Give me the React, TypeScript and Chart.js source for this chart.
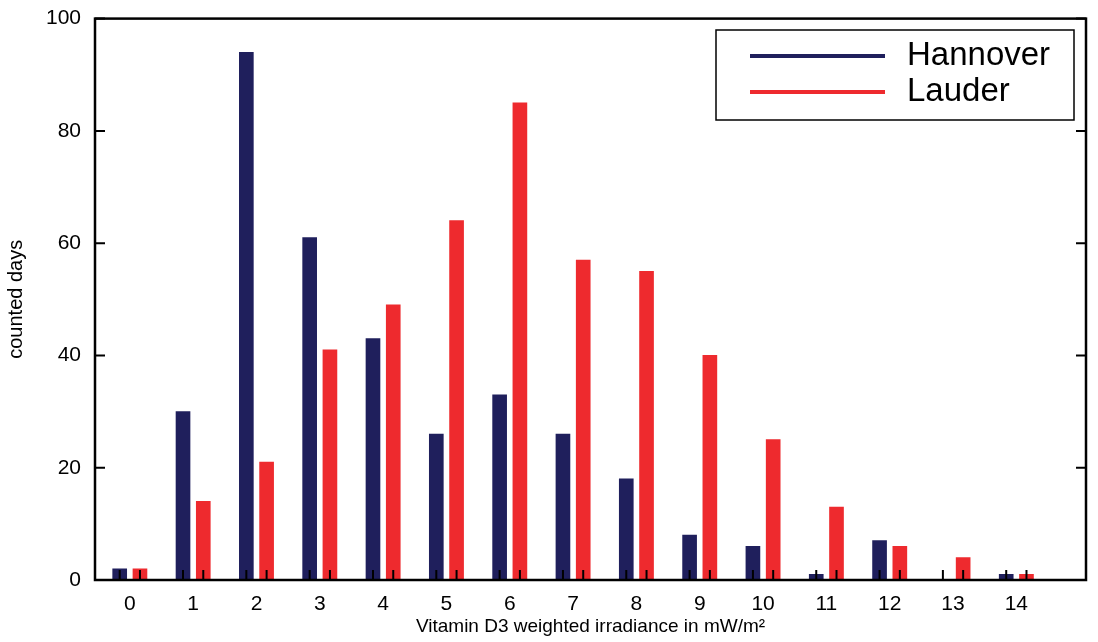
import { useEffect, useRef } from "react";
import Chart from "chart.js/auto";

const bins = [0, 1, 2, 3, 4, 5, 6, 7, 8, 9, 10, 11, 12, 13, 14];
const hannover = [2, 30, 94, 61, 43, 26, 33, 26, 18, 8, 6, 1, 7, 0, 1];
const lauder = [2, 14, 21, 41, 49, 64, 85, 57, 55, 40, 25, 13, 6, 4, 1];
const yTicks = [0, 20, 40, 60, 80, 100];
const shift = 0.16;

const FONT = "'Liberation Sans', Arial, sans-serif";

const framePlugin = {
  id: "frame",
  afterDraw(chart: any) {
    const { ctx, chartArea: a, scales } = chart;
    ctx.save();
    ctx.strokeStyle = "#000";
    ctx.lineWidth = 2.5;
    ctx.strokeRect(a.left, a.top, a.right - a.left, a.bottom - a.top);
    ctx.lineWidth = 2;
    yTicks.forEach((v) => {
      const y = scales.y.getPixelForValue(v);
      ctx.beginPath();
      ctx.moveTo(a.left, y); ctx.lineTo(a.left + 10, y);
      ctx.moveTo(a.right, y); ctx.lineTo(a.right - 10, y);
      ctx.stroke();
    });
    bins.forEach((b) => {
      [b - shift, b + shift].forEach((p) => {
        const x = scales.x.getPixelForValue(p);
        ctx.beginPath();
        ctx.moveTo(x, a.bottom); ctx.lineTo(x, a.bottom - 10);
        ctx.stroke();
      });
    });
    // legend
    const lx = 716, ly = 30, lw = 358, lh = 90;
    ctx.fillStyle = "#fff";
    ctx.fillRect(lx, ly, lw, lh);
    ctx.lineWidth = 1.5;
    ctx.strokeRect(lx, ly, lw, lh);
    const items = [["Hannover", "#1f1f5c", 56], ["Lauder", "#ee2a2e", 92]] as const;
    ctx.font = `33px ${FONT}`;
    ctx.textBaseline = "middle";
    items.forEach(([t, c, y]) => {
      ctx.strokeStyle = c as string;
      ctx.lineWidth = 4;
      ctx.beginPath();
      ctx.moveTo(750, y as number); ctx.lineTo(885, y as number);
      ctx.stroke();
      ctx.fillStyle = "#000";
      ctx.fillText(t as string, 907, y as number);
    });
    ctx.restore();
  },
};

export default function App() {
  const canvasRef = useRef<HTMLCanvasElement | null>(null);

  useEffect(() => {
    document.body.style.margin = "0";
    if (!canvasRef.current) return;
    const chart = new Chart(canvasRef.current, {
      type: "bar",
      data: {
        datasets: [
          {
            label: "Hannover",
            data: bins.map((b, i) => ({ x: b - shift, y: hannover[i] })),
            backgroundColor: "#1f1f5c",
            barThickness: 14,
            grouped: false,
          },
          {
            label: "Lauder",
            data: bins.map((b, i) => ({ x: b + shift, y: lauder[i] })),
            backgroundColor: "#ee2a2e",
            barThickness: 14,
            grouped: false,
          },
        ],
      },
      options: {
        animation: false,
        responsive: false,
        layout: { padding: { top: 17, right: 12 } },
        plugins: { legend: { display: false }, tooltip: { enabled: false } },
        scales: {
          x: {
            type: "linear",
            offset: false,
            min: -0.55,
            max: 15.1,
            grid: { display: false },
            border: { display: false },
            afterBuildTicks: (s: any) => { s.ticks = bins.map((v) => ({ value: v })); },
            afterFit: (s: any) => { s.height = 62; },
            ticks: { color: "#000", font: { family: FONT, size: 21 }, padding: 4 },
            title: { display: true, text: "Vitamin D3 weighted irradiance in mW/m²", color: "#000", font: { family: FONT, size: 19 }, padding: { top: 0 } },
          },
          y: {
            min: 0,
            max: 100,
            grid: { display: false },
            border: { display: false },
            afterBuildTicks: (s: any) => { s.ticks = yTicks.map((v) => ({ value: v })); },
            afterFit: (s: any) => { s.width = 95; },
            ticks: { color: "#000", font: { family: FONT, size: 21 }, padding: 6 },
            title: { display: true, text: "counted days", color: "#000", font: { family: FONT, size: 20 } },
          },
        },
      },
      plugins: [framePlugin],
    });
    return () => chart.destroy();
  }, []);

  return <canvas ref={canvasRef} width={1098} height={642} style={{ display: "block" }} />;
}
